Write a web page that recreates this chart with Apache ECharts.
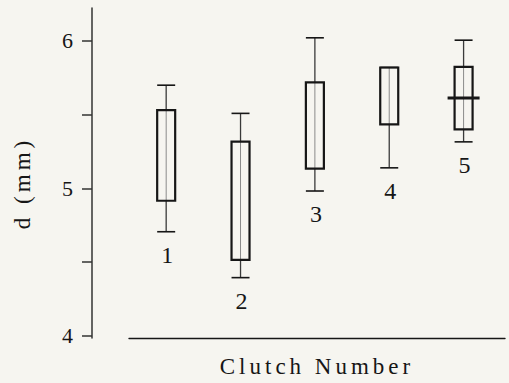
<!DOCTYPE html>
<html>
<head>
<meta charset="utf-8">
<script src="https://cdn.jsdelivr.net/npm/echarts@6/dist/echarts.min.js"></script>
<style>
  html, body { margin: 0; padding: 0; background: #f6f5f0; }
  #chart { width: 509px; height: 383px; }
</style>
</head>
<body>
<div id="chart"></div>
<script>
// Egg diameter per clutch: whisker ends, quartiles and (where shown) median, in mm
const clutches = ['1', '2', '3', '4', '5'];
const whiskerLow  = [4.706, 4.395, 4.982, 5.139, 5.315];
const quartile1   = [4.916, 4.515, 5.133, 5.433, 5.399];
const quartile3   = [5.530, 5.316, 5.718, 5.819, 5.823];
const whiskerHigh = [5.699, 5.508, 6.020, 5.819, 6.004];
const medians     = [null, null, null, null, 5.613];

const yTickValues  = [4, 4.5, 5, 5.5, 6];
const yLabelValues = [4, 5, 6];

const xTitle = 'Clutch Number';
const yTitle = 'd (mm)';

const SERIF = '"Liberation Serif", "Times New Roman", serif';
const INK = '#161616';

const boxData = clutches.map((c, i) => [
  i + 1, whiskerLow[i], quartile1[i], quartile3[i], whiskerHigh[i],
  medians[i] == null ? '-' : medians[i]
]);

function renderBox(params, api) {
  const x = api.value(0);
  const lo = api.coord([x, api.value(1)]);
  const q1 = api.coord([x, api.value(2)]);
  const q3 = api.coord([x, api.value(3)]);
  const hi = api.coord([x, api.value(4)]);
  const med = api.value(5);
  const cx = lo[0];
  const half = 9;
  const kids = [
    // stem inside the box
    { type: 'line', shape: { x1: cx, y1: q3[1], x2: cx, y2: q1[1] },
      style: { stroke: '#8a8a8a', lineWidth: 1 } },
    // upper and lower stems
    { type: 'line', shape: { x1: cx, y1: hi[1], x2: cx, y2: q3[1] },
      style: { stroke: '#3a3a3a', lineWidth: 1.3 } },
    { type: 'line', shape: { x1: cx, y1: q1[1], x2: cx, y2: lo[1] },
      style: { stroke: '#3a3a3a', lineWidth: 1.3 } },
    // caps
    { type: 'line', shape: { x1: cx - half, y1: hi[1], x2: cx + half, y2: hi[1] },
      style: { stroke: INK, lineWidth: 1.6 } },
    { type: 'line', shape: { x1: cx - half, y1: lo[1], x2: cx + half, y2: lo[1] },
      style: { stroke: INK, lineWidth: 1.6 } },
    // box
    { type: 'rect', shape: { x: cx - half, y: q3[1], width: half * 2, height: q1[1] - q3[1] },
      style: { fill: 'none', stroke: INK, lineWidth: 2.2 } },
    // clutch number under the lower whisker
    { type: 'text', x: cx + 1, y: lo[1] + 23,
      style: { text: clutches[params.dataIndex], font: '24px ' + SERIF, fill: INK,
               align: 'center', verticalAlign: 'middle' } }
  ];
  if (!isNaN(med)) {
    const m = api.coord([x, med]);
    kids.push({ type: 'line', shape: { x1: cx - 16, y1: m[1], x2: cx + 16, y2: m[1] },
      style: { stroke: INK, lineWidth: 3 } });
  }
  return { type: 'group', children: kids };
}

const option = {
  backgroundColor: '#f6f5f0',
  animation: false,
  grid: { left: 129, right: 4, top: 8, bottom: 45 },
  xAxis: {
    type: 'value', min: 0.5, max: 5.557,
    axisLine: { show: true, lineStyle: { color: INK, width: 1.4 } },
    axisTick: { show: false }, axisLabel: { show: false }, splitLine: { show: false },
    name: xTitle, nameLocation: 'middle', nameGap: 17,
    nameTextStyle: { fontFamily: SERIF, fontSize: 23, color: INK }
  },
  yAxis: {
    type: 'value', min: 3.986, max: 6.222, offset: 37,
    axisLine: { show: true, lineStyle: { color: '#333', width: 1.5 } },
    axisTick: { show: true, length: 10, customValues: yTickValues,
                lineStyle: { color: '#333', width: 1.5 } },
    axisLabel: { customValues: yLabelValues, margin: 19, fontFamily: SERIF,
                 fontSize: 22, color: INK },
    splitLine: { show: false },
    name: yTitle, nameLocation: 'middle', nameGap: 58, nameRotate: 90,
    nameTextStyle: { fontFamily: SERIF, fontSize: 23, color: INK, padding: [0, 20, 0, 0] }
  },
  series: [{
    type: 'custom',
    renderItem: renderBox,
    encode: { x: 0, y: [1, 2, 3, 4] },
    data: boxData
  }]
};

const el = document.getElementById('chart');
const chart = echarts.init(el, null, { renderer: 'svg' });
chart.setOption(option);

// Axis titles are set with wide tracking
function trackTitles() {
  el.querySelectorAll('text').forEach(t => {
    if (t.textContent === xTitle || t.textContent === yTitle) {
      t.style.letterSpacing = '4px';
    }
  });
}
trackTitles();
chart.on('finished', trackTitles);
</script>
</body>
</html>
